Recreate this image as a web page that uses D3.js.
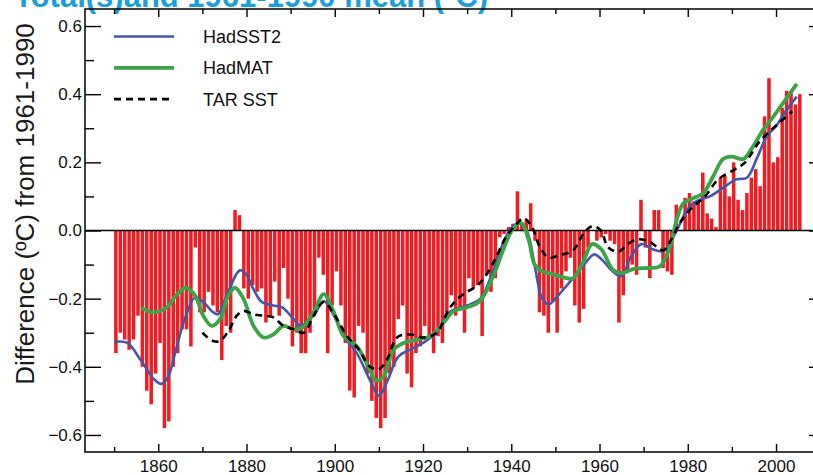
<!DOCTYPE html>
<html>
<head>
<meta charset="utf-8">
<script src="https://cdn.jsdelivr.net/npm/d3@7"></script>
<style>
  body { margin: 0; background: #fff; }
  text { font-family: "Liberation Sans", Arial, Helvetica, sans-serif; }
</style>
</head>
<body>
<div id="chart"></div>
<script>
// annual SST anomalies, one bar per year from 1850
const firstYear = 1850;
const sstBars = [
  -0.36, -0.30, -0.32, -0.35, -0.32, -0.25, -0.40, -0.47, -0.51, -0.42,
  -0.33, -0.58, -0.56, -0.40, -0.36, -0.29, -0.29, -0.34, -0.05, -0.24,
  -0.24, -0.18, -0.22, -0.24, -0.38, -0.28, -0.30, 0.06, 0.045, -0.17,
  -0.20, -0.16, -0.18, -0.17, -0.27, -0.25, -0.15, -0.25, -0.11, -0.20,
  -0.34, -0.30, -0.36, -0.36, -0.30, -0.25, -0.08, -0.13, -0.36, -0.22,
  -0.12, -0.22, -0.33, -0.47, -0.49, -0.28, -0.30, -0.42, -0.50, -0.55,
  -0.58, -0.55, -0.42, -0.40, -0.26, -0.22, -0.42, -0.46, -0.36, -0.34,
  -0.28, -0.31, -0.36, -0.31, -0.33, -0.24, -0.19, -0.25, -0.23, -0.30,
  -0.14, -0.17, -0.16, -0.31, -0.13, -0.18, -0.14, -0.02, -0.01, 0.01,
  0.02, 0.115, 0.02, 0.03, 0.08, -0.03, -0.24, -0.25, -0.30, -0.21,
  -0.30, -0.17, -0.12, -0.08, -0.22, -0.27, -0.23, -0.05, 0.00, -0.03,
  -0.02, -0.01, -0.03, -0.04, -0.27, -0.19, -0.12, -0.10, -0.13, 0.09,
  -0.05, -0.14, 0.06, 0.06, -0.11, -0.12, -0.13, 0.076, 0.00, 0.096,
  0.11, 0.086, 0.09, 0.17, 0.05, 0.035, 0.01, 0.155, 0.16, 0.10,
  0.20, 0.09, 0.06, 0.11, 0.155, 0.18, 0.13, 0.335, 0.447, 0.20,
  0.215, 0.36, 0.41, 0.41, 0.37, 0.40
];

// smoothed curves, [year, anomaly]
const hadSST2 = [
  [1850, -0.327], [1853, -0.33], [1856, -0.38], [1859, -0.436], [1860.7, -0.45],
  [1862.2, -0.43], [1864, -0.35], [1866, -0.26], [1868.3, -0.197], [1870.2, -0.21],
  [1872.1, -0.236], [1873.5, -0.246], [1875.5, -0.19], [1878.5, -0.117], [1880, -0.13],
  [1881.6, -0.173], [1883.5, -0.21], [1886, -0.22], [1888, -0.225], [1890.7, -0.26],
  [1892.2, -0.28], [1895.2, -0.25], [1897.5, -0.207], [1899.8, -0.25], [1902, -0.31],
  [1905, -0.36], [1908, -0.44], [1910, -0.485], [1911.8, -0.445], [1914.4, -0.37],
  [1917, -0.35], [1920, -0.33], [1923, -0.30], [1926, -0.24], [1930, -0.22],
  [1933, -0.20], [1936, -0.114], [1938.2, -0.036], [1940.4, 0.013], [1942, 0.02],
  [1943.7, -0.007], [1945.4, -0.11], [1947, -0.20], [1948.5, -0.217], [1950, -0.20],
  [1952, -0.17], [1954, -0.14], [1956.5, -0.10], [1958.8, -0.07], [1960.5, -0.085],
  [1963, -0.12], [1965, -0.134], [1967, -0.08], [1969.5, -0.04], [1972, -0.055],
  [1974.5, -0.06], [1977.5, 0.0], [1979.8, 0.06], [1982, 0.086], [1985, 0.10],
  [1988, 0.125], [1991, 0.15], [1993.4, 0.155], [1995.6, 0.21], [1997.9, 0.276],
  [2000.2, 0.31], [2002.4, 0.354], [2004.7, 0.393]
];
const hadMAT = [
  [1856.2, -0.226], [1858.8, -0.24], [1861.9, -0.226], [1864.1, -0.19], [1866.2, -0.168],
  [1868.3, -0.19], [1870.2, -0.25], [1872.1, -0.28], [1874, -0.26], [1875.9, -0.19],
  [1877.4, -0.168], [1879.3, -0.20], [1881.6, -0.28], [1883.9, -0.314], [1886.1, -0.305],
  [1888.4, -0.28], [1890.7, -0.29], [1892.6, -0.285], [1895.2, -0.24], [1897.5, -0.187],
  [1899.8, -0.24], [1902, -0.31], [1905, -0.34], [1908, -0.41], [1909.2, -0.44],
  [1911, -0.43], [1913.3, -0.35], [1915.6, -0.33], [1918.6, -0.32], [1921.7, -0.31],
  [1924.7, -0.27], [1927, -0.236], [1929.9, -0.226], [1932.9, -0.207], [1935.9, -0.134],
  [1938.2, -0.056], [1940.4, 0.005], [1942.3, 0.022], [1944, -0.03], [1945.3, -0.10],
  [1947, -0.12], [1949, -0.127], [1952, -0.138], [1954, -0.14], [1956.2, -0.095],
  [1958.3, -0.04], [1960.4, -0.055], [1963, -0.115], [1965, -0.125], [1968, -0.112],
  [1971, -0.11], [1973.7, -0.105], [1976, -0.046], [1977.5, 0.032], [1979, 0.08],
  [1981.3, 0.095], [1983.5, 0.11], [1985.8, 0.16], [1988, 0.21], [1989.9, 0.217],
  [1992.6, 0.21], [1994.8, 0.247], [1997.1, 0.296], [1999.4, 0.334], [2001.6, 0.374],
  [2004.7, 0.43]
];
const tarSST = [
  [1870, -0.30], [1872.4, -0.324], [1874, -0.324], [1875.9, -0.295], [1877.8, -0.25],
  [1879.3, -0.236], [1881.6, -0.246], [1883.9, -0.25], [1886.1, -0.255], [1888.4, -0.28],
  [1890.7, -0.29], [1893, -0.30], [1895.2, -0.25], [1897.5, -0.21], [1899.8, -0.245],
  [1902.8, -0.31], [1905.5, -0.35], [1908, -0.40], [1910, -0.407], [1911.8, -0.38],
  [1914.1, -0.314], [1917.1, -0.305], [1920.2, -0.314], [1923.1, -0.30], [1926.1, -0.226],
  [1929.1, -0.187], [1932.2, -0.163], [1934.4, -0.129], [1936.7, -0.075], [1938.9, -0.017],
  [1941.2, 0.018], [1942.7, 0.037], [1944.6, 0.013], [1946.4, -0.046], [1948.5, -0.08],
  [1951, -0.072], [1954, -0.058], [1956.6, -0.005], [1958.4, 0.013], [1960.3, 0.0],
  [1962, -0.05], [1964.3, -0.062], [1966.4, -0.04], [1968.6, -0.026], [1971.2, -0.032],
  [1974.5, -0.058], [1976.5, -0.02], [1978.2, 0.022], [1980.9, 0.066], [1983.9, 0.10],
  [1986.9, 0.15], [1990.5, 0.178], [1993, 0.20], [1996.2, 0.26], [2000.2, 0.31],
  [2003.7, 0.35]
];

const seriesNames = ["HadSST2", "HadMAT", "TAR SST"];
const xMajorTicks = [1860, 1880, 1900, 1920, 1940, 1960, 1980, 2000];
const xMinorTicks = [1850, 1870, 1890, 1910, 1930, 1950, 1970, 1990, 2010];
const yMajorTicks = [-0.6, -0.4, -0.2, 0.0, 0.2, 0.4, 0.6];
const yMinorTicks = [-0.5, -0.3, -0.1, 0.1, 0.3, 0.5];

const width = 813, height = 475;
const plot = { left: 85, right: 825, top: 9, bottom: 452 };

const svg = d3.select("#chart")
  .append("svg")
  .attr("width", width)
  .attr("height", height);

const x = d3.scaleLinear().domain([1843.4, 2011.1]).range([plot.left, plot.right]);
const y = d3.scaleLinear().domain([-0.65, 0.65]).range([plot.bottom, plot.top]);

// title, mostly cut off by the top edge
svg.append("text")
  .attr("x", 14)
  .attr("y", 7)
  .attr("fill", "#1a9fd9")
  .style("font-size", "31px")
  .style("font-weight", "bold")
  .text("Total(s)and 1961-1990 mean (ºC)");

svg.append("defs").append("clipPath")
  .attr("id", "plot-clip")
  .append("rect")
  .attr("x", plot.left)
  .attr("y", plot.top)
  .attr("width", plot.right - plot.left)
  .attr("height", plot.bottom - plot.top);

const inner = svg.append("g").attr("clip-path", "url(#plot-clip)");

// bars
const bars = sstBars.map((v, i) => ({ year: firstYear + i, value: v }));
inner.selectAll(".bar")
  .data(bars)
  .enter()
  .append("rect")
  .attr("class", "bar")
  .attr("x", d => x(d.year))
  .attr("width", d => x(d.year + 0.8) - x(d.year))
  .attr("y", d => y(Math.max(0, d.value)))
  .attr("height", d => Math.abs(y(d.value) - y(0)))
  .attr("fill", "#ee1d24");

// zero line
inner.append("line")
  .attr("x1", plot.left)
  .attr("x2", plot.right)
  .attr("y1", y(0))
  .attr("y2", y(0))
  .attr("stroke", "#000")
  .attr("stroke-width", 1.5);

const line = d3.line()
  .x(d => x(d[0]))
  .y(d => y(d[1]))
  .curve(d3.curveCatmullRom.alpha(0.5));

const styles = [
  { data: hadSST2, color: "#4257a8", width: 2.6, dash: null },
  { data: hadMAT, color: "#3aa446", width: 3.8, dash: null },
  { data: tarSST, color: "#000", width: 2.6, dash: "7,5" }
];

inner.selectAll(".curve")
  .data(styles)
  .enter()
  .append("path")
  .attr("class", "curve")
  .attr("fill", "none")
  .attr("stroke", d => d.color)
  .attr("stroke-width", d => d.width)
  .attr("stroke-dasharray", d => d.dash)
  .attr("d", d => line(d.data));

// frame
svg.append("rect")
  .attr("x", plot.left)
  .attr("y", plot.top)
  .attr("width", plot.right - plot.left)
  .attr("height", plot.bottom - plot.top)
  .attr("fill", "none")
  .attr("stroke", "#000")
  .attr("stroke-width", 1.5);

function styleAxis(g) {
  g.select(".domain").remove();
  g.selectAll(".tick line").attr("stroke", "#000").attr("stroke-width", 1.4);
  g.selectAll("text")
    .attr("fill", "#111")
    .style("font-size", "17px")
    .style("font-family", '"Liberation Sans", Arial, sans-serif');
}

// bottom
svg.append("g")
  .attr("transform", `translate(0,${plot.bottom})`)
  .call(d3.axisBottom(x).tickValues(xMajorTicks).tickSize(-8).tickSizeOuter(0).tickPadding(8).tickFormat(d3.format("d")))
  .call(styleAxis);
svg.append("g")
  .attr("transform", `translate(0,${plot.bottom})`)
  .call(d3.axisBottom(x).tickValues(xMinorTicks).tickSize(-5).tickSizeOuter(0).tickFormat(""))
  .call(styleAxis);

// top
svg.append("g")
  .attr("transform", `translate(0,${plot.top})`)
  .call(d3.axisTop(x).tickValues(xMajorTicks).tickSize(-8).tickSizeOuter(0).tickFormat(""))
  .call(styleAxis);
svg.append("g")
  .attr("transform", `translate(0,${plot.top})`)
  .call(d3.axisTop(x).tickValues(xMinorTicks).tickSize(-5).tickSizeOuter(0).tickFormat(""))
  .call(styleAxis);

// left
svg.append("g")
  .attr("transform", `translate(${plot.left},0)`)
  .call(d3.axisLeft(y).tickValues(yMajorTicks).tickSize(-16).tickSizeOuter(0).tickPadding(3).tickFormat(d3.format(".1f")))
  .call(styleAxis);
svg.append("g")
  .attr("transform", `translate(${plot.left},0)`)
  .call(d3.axisLeft(y).tickValues(yMinorTicks).tickSize(-9).tickSizeOuter(0).tickFormat(""))
  .call(styleAxis);

// right
svg.append("g")
  .attr("transform", `translate(${plot.right},0)`)
  .call(d3.axisRight(y).tickValues(yMajorTicks).tickSize(-16).tickSizeOuter(0).tickFormat(""))
  .call(styleAxis);
svg.append("g")
  .attr("transform", `translate(${plot.right},0)`)
  .call(d3.axisRight(y).tickValues(yMinorTicks).tickSize(-9).tickSizeOuter(0).tickFormat(""))
  .call(styleAxis);

// y title
svg.append("text")
  .attr("transform", "translate(34,204) rotate(-90)")
  .attr("text-anchor", "middle")
  .attr("fill", "#1a1a1a")
  .style("font-size", "26px")
  .text("Difference (ºC) from 1961-1990");

// legend
const legend = svg.append("g");
const legendRows = legend.selectAll(".legend-row")
  .data(seriesNames)
  .enter()
  .append("g")
  .attr("transform", (d, i) => `translate(0,${36.5 + i * 31.3})`);

legendRows.append("line")
  .attr("x1", 114)
  .attr("x2", 174)
  .attr("stroke", (d, i) => styles[i].color)
  .attr("stroke-width", (d, i) => styles[i].width)
  .attr("stroke-dasharray", (d, i) => styles[i].dash);

legendRows.append("text")
  .attr("x", 203)
  .attr("dy", "0.36em")
  .attr("fill", "#111")
  .style("font-size", "18px")
  .text(d => d);
</script>
</body>
</html>
